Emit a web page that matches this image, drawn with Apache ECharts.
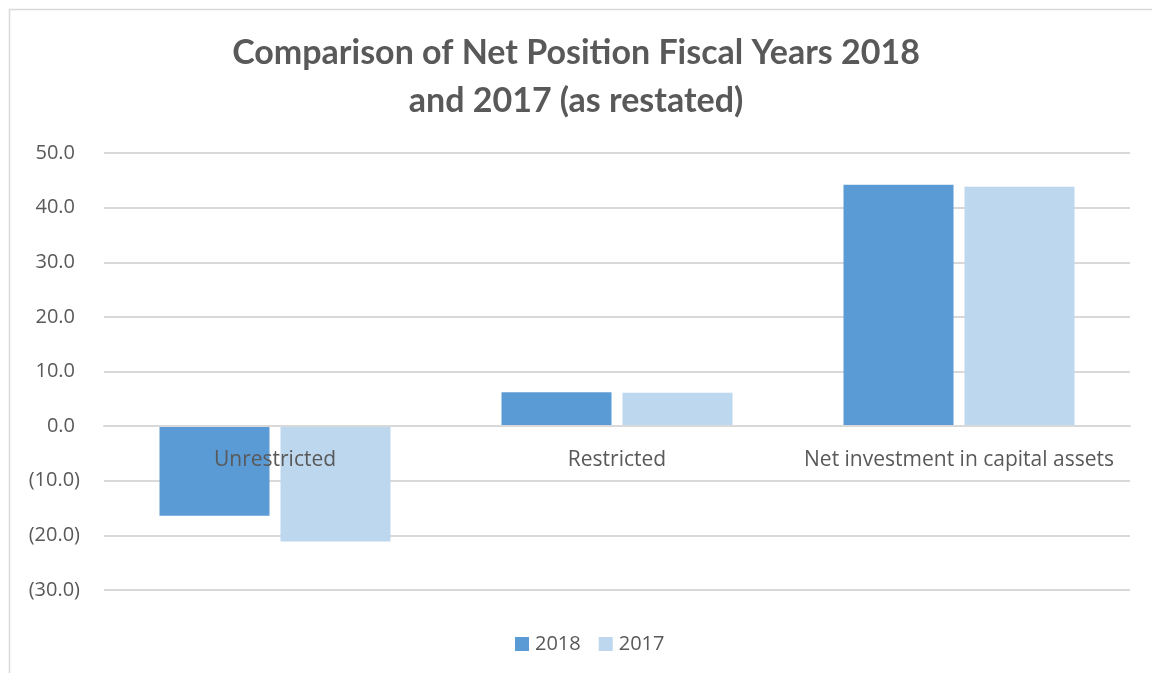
<!DOCTYPE html>
<html><head><meta charset="utf-8">
<script src="https://cdn.jsdelivr.net/npm/echarts@6/dist/echarts.min.js"></script>
<style>html,body{margin:0;padding:0;background:#fff}#c{width:1152px;height:673px}</style>
</head><body><div id="c"></div>
<script>
var categories = ['Unrestricted', 'Restricted', 'Net investment in capital assets'];
var values2018 = [-16.4, 6.2, 44.2];
var values2017 = [-21.1, 6.1, 43.8];
var seriesNames = ['2018', '2017'];
var titleText = 'Comparison of Net Position Fiscal Years 2018\nand 2017 (as restated)';

var chart = echarts.init(document.getElementById('c'));
chart.setOption({
  animation: false,
  backgroundColor: '#fff',
  graphic: [{
    type: 'rect', left: 7, top: 7, z: -1,
    shape: { width: 1160, height: 680 },
    style: { fill: 'none', stroke: '#d9d9d9', lineWidth: 1.5 }
  }],
  title: {
    text: titleText, left: 'center', top: 24,
    textStyle: { fontFamily: 'Lato', fontWeight: 'bold', fontSize: 34, color: '#595959', lineHeight: 48 }
  },
  legend: {
    bottom: 14, left: 510, itemWidth: 14, itemHeight: 14, itemGap: 18,
    icon: 'rect',
    textStyle: { fontFamily: 'Open Sans', fontSize: 20, color: '#595959', padding: [0, 0, 0, 1] },
    data: seriesNames
  },
  grid: { left: 104, right: 22, top: 153, bottom: 83, containLabel: false },
  xAxis: {
    type: 'category', data: categories, z: 10, offset: -164,
    axisLine: { onZero: false, lineStyle: { color: '#d9d9d9', width: 2 } },
    axisTick: { show: false },
    axisLabel: { interval: 0, margin: 24, fontFamily: 'Open Sans', fontSize: 21, color: '#595959' }
  },
  yAxis: {
    type: 'value', min: -30, max: 50, interval: 10,
    axisLine: { show: false }, axisTick: { show: false },
    splitLine: { lineStyle: { color: '#d9d9d9', width: 2 } },
    axisLabel: {
      margin: 24, fontFamily: 'Open Sans', fontSize: 20, color: '#595959',
      formatter: function (v) { return v < 0 ? '(' + Math.abs(v).toFixed(1) + ')' : v.toFixed(1) + '{s| }'; },
      rich: { s: { width: 5 } }
    }
  },
  series: [
    { name: seriesNames[0], type: 'bar', data: values2018, barWidth: 110, barGap: '10%', itemStyle: { color: '#5B9BD5' } },
    { name: seriesNames[1], type: 'bar', data: values2017, barWidth: 110, itemStyle: { color: '#BDD7EE' } }
  ]
});
</script></body></html>
